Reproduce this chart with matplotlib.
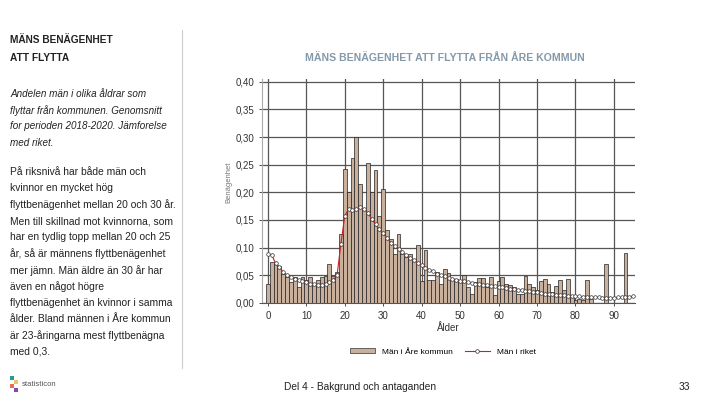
import numpy as np
import matplotlib.pyplot as plt
from matplotlib.patches import Rectangle
from matplotlib.lines import Line2D

plt.rcParams['font.family'] = ['Liberation Sans', 'DejaVu Sans']

# data
ages = list(range(0, 96))
are_kommun = [0.035, 0.074, 0.074, 0.067, 0.053, 0.047, 0.038, 0.047, 0.029, 0.047,
              0.041, 0.047, 0.035, 0.041, 0.047, 0.048, 0.071, 0.048, 0.056, 0.125,
              0.243, 0.200, 0.262, 0.300, 0.215, 0.170, 0.253, 0.200, 0.240, 0.158,
              0.206, 0.131, 0.115, 0.089, 0.124, 0.089, 0.083, 0.089, 0.080, 0.105,
              0.040, 0.096, 0.041, 0.041, 0.056, 0.034, 0.062, 0.054, 0.044, 0.044,
              0.038, 0.050, 0.029, 0.016, 0.038, 0.046, 0.045, 0.029, 0.047, 0.014,
              0.040, 0.047, 0.034, 0.032, 0.029, 0.016, 0.017, 0.049, 0.034, 0.029,
              0.023, 0.040, 0.044, 0.034, 0.020, 0.031, 0.041, 0.023, 0.043, 0.011,
              0.005, 0.008, 0.005, 0.041, 0.008, 0.0, 0.0, 0.0, 0.071, 0.0,
              0.0, 0.0, 0.0, 0.090, 0.0, 0.0]
riket = [0.089, 0.087, 0.072, 0.065, 0.056, 0.050, 0.047, 0.044, 0.041, 0.040,
         0.038, 0.035, 0.034, 0.032, 0.032, 0.034, 0.037, 0.041, 0.050, 0.107,
         0.157, 0.170, 0.168, 0.169, 0.173, 0.170, 0.163, 0.152, 0.142, 0.133,
         0.126, 0.117, 0.109, 0.103, 0.097, 0.093, 0.086, 0.081, 0.077, 0.072,
         0.068, 0.064, 0.060, 0.057, 0.053, 0.050, 0.048, 0.046, 0.044, 0.042,
         0.040, 0.039, 0.037, 0.036, 0.035, 0.034, 0.033, 0.032, 0.031, 0.030,
         0.029, 0.028, 0.027, 0.026, 0.025, 0.024, 0.023, 0.022, 0.021, 0.020,
         0.019, 0.018, 0.017, 0.016, 0.016, 0.015, 0.014, 0.014, 0.013, 0.013,
         0.012, 0.012, 0.011, 0.011, 0.010, 0.010, 0.010, 0.009, 0.009, 0.009,
         0.009, 0.010, 0.010, 0.010, 0.011, 0.012]
yticks = [0.0, 0.05, 0.10, 0.15, 0.20, 0.25, 0.30, 0.35, 0.40]
xticks = [0, 10, 20, 30, 40, 50, 60, 70, 80, 90]

left_title = ["MÄNS BENÄGENHET", "ATT FLYTTA"]
para1 = ["Andelen män i olika åldrar som",
         "flyttar från kommunen. Genomsnitt",
         "for perioden 2018-2020. Jämforelse",
         "med riket."]
para2 = ["På riksnivå har både män och",
         "kvinnor en mycket hög",
         "flyttbenägenhet mellan 20 och 30 år.",
         "Men till skillnad mot kvinnorna, som",
         "har en tydlig topp mellan 20 och 25",
         "år, så är männens flyttbenägenhet",
         "mer jämn. Män äldre än 30 år har",
         "även en något högre",
         "flyttbenägenhet än kvinnor i samma",
         "ålder. Bland männen i Åre kommun",
         "är 23-åringarna mest flyttbenägna",
         "med 0,3."]

bar_col = '#c9b09c'
fig = plt.figure(figsize=(7.2, 4.05), dpi=100)
ax = fig.add_axes([0.364, 0.252, 0.518, 0.553])

ax.bar(ages, are_kommun, width=1.0, color=bar_col, edgecolor='#222222', linewidth=0.5, zorder=2)
ax.plot(ages, riket, color='#cc2020', linewidth=0.8, marker='o', markersize=2.6,
        markerfacecolor='white', markeredgecolor='#333333', markeredgewidth=0.5, zorder=3)

ax.set_xlim(-1.5, 95.5)
ax.set_ylim(0, 0.405)
ax.set_yticks(yticks)
ax.set_yticklabels([f"{v:.2f}".replace('.', ',') for v in yticks])
ax.set_xticks(xticks)
ax.tick_params(labelsize=7, colors='#333333', length=2, width=0.6)
ax.set_axisbelow(True)
ax.grid(True, color='#555555', linewidth=0.9)
for s in ['top', 'right']:
    ax.spines[s].set_visible(False)
ax.spines['left'].set_color('#aaaaaa')
ax.spines['bottom'].set_color('#555555')
ax.set_xlabel("Ålder", fontsize=7, color='#333333', labelpad=2)
fig.text(229 / 720, 1 - 182 / 405, "Benägenhet", rotation=90, ha='center', va='center',
         fontsize=5.5, color='#777777')

fig.text(0.618, 0.857, "MÄNS BENÄGENHET ATT FLYTTA FRÅN ÅRE KOMMUN", ha='center', va='center',
         fontsize=7.6, fontweight='bold', color='#8499aa')

handles = [Rectangle((0, 0), 1, 1, facecolor=bar_col, edgecolor='#333333', linewidth=0.5),
           Line2D([], [], color='#cc2020', linewidth=0.8, marker='o', markersize=2.6,
                  markerfacecolor='white', markeredgecolor='#333333', markeredgewidth=0.5)]
fig.legend(handles, ["Män i Åre kommun", "Män i riket"], loc='center', ncol=2,
           bbox_to_anchor=(0.615, 0.131), frameon=False, fontsize=6,
           handlelength=3, handleheight=0.5, columnspacing=1.5)

# left text panel
fig.text(10 / 720, 1 - 40 / 405, left_title[0], fontsize=7.3, fontweight='bold', color='#222222', va='center')
fig.text(10 / 720, 1 - 58 / 405, left_title[1], fontsize=7.3, fontweight='bold', color='#222222', va='center')
for i, line in enumerate(para1):
    fig.text(10 / 720, 1 - (94 + i * 16.2) / 405, line, fontsize=7.1, style='italic',
             color='#222222', va='center')
for i, line in enumerate(para2):
    fig.text(10 / 720, 1 - (172 + i * 16.36) / 405, line, fontsize=7.4,
             color='#222222', va='center')

fig.add_artist(Line2D([182 / 720, 182 / 720], [1 - 30 / 405, 1 - 368 / 405],
                      color='#cccccc', linewidth=0.8))

# footer
fig.text(360 / 720, 1 - 387 / 405, "Del 4 - Bakgrund och antaganden", ha='center', va='center',
         fontsize=7.3, color='#222222')
fig.text(690 / 720, 1 - 387 / 405, "33", ha='right', va='center', fontsize=7.3, color='#222222')
for (x0, y0, c) in [(10, 380, '#2a9d8f'), (14, 384, '#e9c46a'), (10, 388, '#e76f51'), (14, 392, '#8e44ad')]:
    fig.add_artist(Rectangle((x0 / 720, 1 - y0 / 405), 4 / 720, 4 / 405, facecolor=c,
                             edgecolor='none', transform=fig.transFigure))
fig.text(22 / 720, 1 - 385 / 405, "statisticon", va='center', fontsize=5.5, color='#555555')

fig.savefig("out.png", dpi=100)
